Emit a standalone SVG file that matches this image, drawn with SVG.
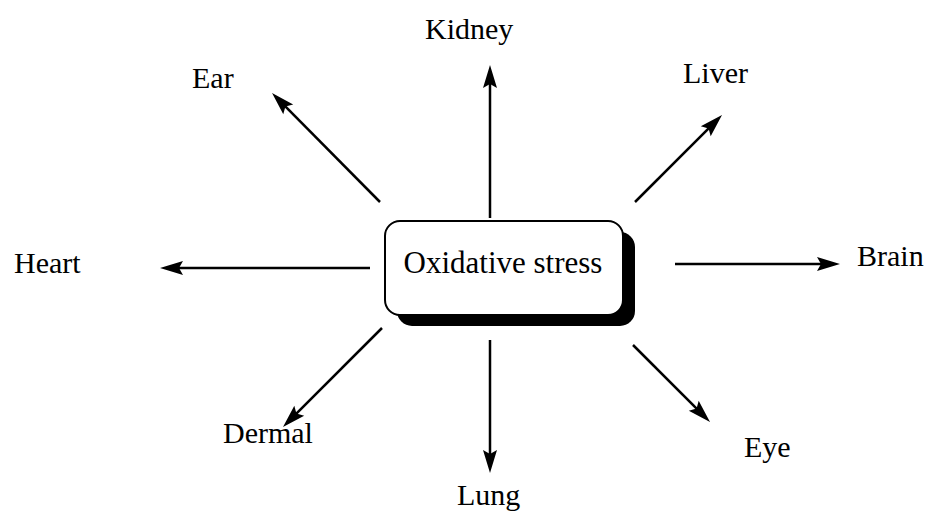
<svg xmlns="http://www.w3.org/2000/svg" width="928" height="513" viewBox="0 0 928 513">
<style>
.lbl{font-family:"Liberation Serif","Times New Roman",serif;font-size:30px;fill:#000}
.ctr{font-family:"Liberation Serif","Times New Roman",serif;font-size:31px;fill:#000}
.con line{stroke:#000;stroke-width:2.5;marker-end:url(#ah)}
</style>
<defs>
<marker id="ah" markerUnits="userSpaceOnUse" markerWidth="23" markerHeight="14" refX="8" refY="7" orient="auto" overflow="visible">
<path d="M0,0 L23,7 L0,14 L4,7 Z" fill="#000"/>
</marker>
</defs>
<rect width="928" height="513" fill="#fff"/>
<g id="center">
<rect x="397" y="232" width="238" height="94" rx="15" fill="#000"/>
<rect x="385" y="221" width="238" height="94" rx="15" fill="#fff" stroke="#000" stroke-width="2"/>
<text class="ctr" x="503" y="273" text-anchor="middle">Oxidative stress</text>
</g>
<g class="con" id="connectors">
<line x1="490" y1="218" x2="490" y2="80"/>
<line x1="380" y1="202" x2="282.6" y2="103.7"/>
<line x1="635" y1="202" x2="711.4" y2="125.6"/>
<line x1="370" y1="268" x2="175" y2="268"/>
<line x1="675" y1="264" x2="825" y2="264"/>
<line x1="382" y1="328" x2="293.6" y2="416.4"/>
<line x1="633" y1="345" x2="699.4" y2="411.4"/>
<line x1="490" y1="340" x2="490" y2="458"/>
</g>
<g id="kidney"><text class="lbl" x="425" y="39">Kidney</text></g>
<g id="ear"><text class="lbl" x="192" y="88">Ear</text></g>
<g id="liver"><text class="lbl" x="683" y="83">Liver</text></g>
<g id="heart"><text class="lbl" x="14" y="273">Heart</text></g>
<g id="brain"><text class="lbl" x="857" y="266">Brain</text></g>
<g id="dermal"><text class="lbl" x="223" y="443">Dermal</text></g>
<g id="eye"><text class="lbl" x="744" y="457">Eye</text></g>
<g id="lung"><text class="lbl" x="457" y="505">Lung</text></g>
</svg>
